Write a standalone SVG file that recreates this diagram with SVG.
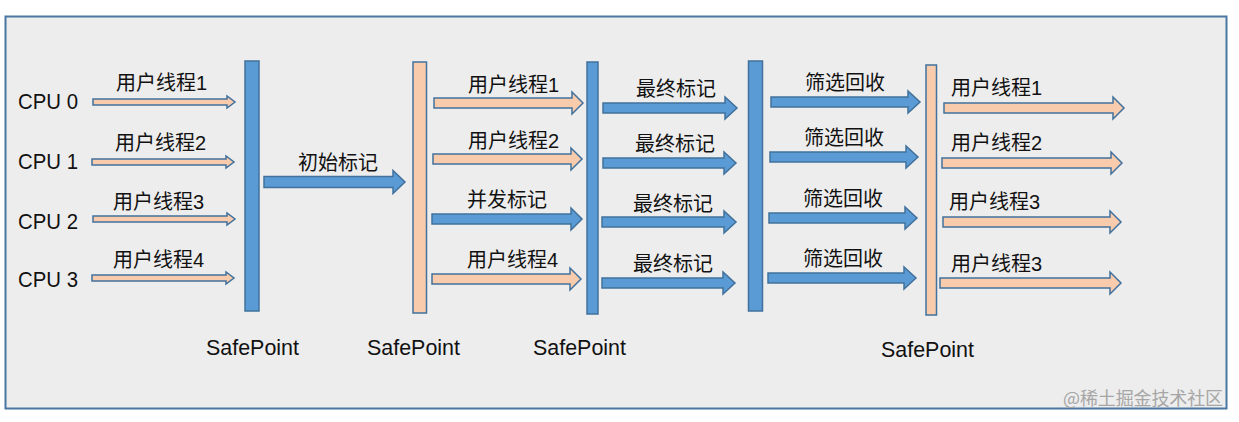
<svg xmlns="http://www.w3.org/2000/svg" width="1239" height="422" viewBox="0 0 1239 422">
<style>
.t{font-family:"Liberation Sans","Noto Sans CJK SC",sans-serif;font-size:20px;fill:#111}
.cpu{font-size:22px}
.sp{font-size:22.5px}
.blue{fill:#5B9BD5;stroke:#41719C;stroke-width:1.5}
.org{fill:#F8CBAD;stroke:#41719C;stroke-width:1.5}
.wm{font-family:"Noto Sans CJK SC",sans-serif;font-size:18px;fill:#A6A6A6}
</style>
<rect x="0" y="0" width="1239" height="422" fill="#FFFFFF"/>
<rect id="frame" x="5.5" y="16.5" width="1221" height="392" fill="#EDEDED" stroke="#4A76A0" stroke-width="2"/>

<g id="cpu-labels">
<text class="t cpu" x="18" y="109" textLength="60" lengthAdjust="spacingAndGlyphs">CPU 0</text>
<text class="t cpu" x="18" y="169" textLength="60" lengthAdjust="spacingAndGlyphs">CPU 1</text>
<text class="t cpu" x="18" y="229" textLength="60" lengthAdjust="spacingAndGlyphs">CPU 2</text>
<text class="t cpu" x="18" y="287" textLength="60" lengthAdjust="spacingAndGlyphs">CPU 3</text>
</g>

<g id="safepoint1"><rect class="blue" x="245" y="61" width="14" height="250"/><text class="t sp" x="206" y="355" textLength="93" lengthAdjust="spacingAndGlyphs">SafePoint</text></g>
<g id="safepoint2"><rect class="org" x="413" y="62" width="13.5" height="251"/><text class="t sp" x="367" y="355" textLength="93" lengthAdjust="spacingAndGlyphs">SafePoint</text></g>
<g id="safepoint3"><rect class="blue" x="587" y="62" width="11" height="252"/><text class="t sp" x="533" y="355" textLength="93" lengthAdjust="spacingAndGlyphs">SafePoint</text></g>
<g id="barrier4"><rect class="blue" x="748.5" y="61" width="14" height="250"/></g>
<g id="safepoint4"><rect class="org" x="926" y="65" width="10.5" height="250"/><text class="t sp" x="881" y="357" textLength="93" lengthAdjust="spacingAndGlyphs">SafePoint</text></g>

<g id="connectors">
<path class="org" d="M93,99 H227 V96 L235,102 L227,108 V105 H93 Z"/>
<path class="org" d="M92,159 H226 V156 L234,162 L226,168 V165 H92 Z"/>
<path class="org" d="M93,216 H227 V213 L235,219 L227,225 V222 H93 Z"/>
<path class="org" d="M92,275 H226 V272 L234,278 L226,284 V281 H92 Z"/>
<text class="t" x="116" y="89.5">用户线程1</text>
<text class="t" x="115" y="149.5">用户线程2</text>
<text class="t" x="113" y="208.5">用户线程3</text>
<text class="t" x="113" y="267">用户线程4</text>

<path class="blue" d="M264,176.5 H393 V170.5 L405,182 L393,193.5 V187.5 H264 Z"/>
<text class="t" x="298" y="170">初始标记</text>

<path class="org" d="M434,98 H572 V92 L583,103 L572,114 V108 H434 Z"/>
<path class="org" d="M433,154 H571 V148 L582,159 L571,170 V164 H433 Z"/>
<path class="blue" d="M432,214 H571 V208 L582,219 L571,230 V224 H432 Z"/>
<path class="org" d="M432,274 H570 V268 L581,279 L570,290 V284 H432 Z"/>
<text class="t" x="468" y="92">用户线程1</text>
<text class="t" x="468" y="148">用户线程2</text>
<text class="t" x="467" y="207">并发标记</text>
<text class="t" x="467" y="267">用户线程4</text>

<path class="blue" d="M603,103 H725 V97 L737,108 L725,119 V113 H603 Z"/>
<path class="blue" d="M603,158 H724 V152 L736,163 L724,174 V168 H603 Z"/>
<path class="blue" d="M602,217 H724 V211 L736,222 L724,233 V227 H602 Z"/>
<path class="blue" d="M602,278 H723 V272 L735,283 L723,294 V288 H602 Z"/>
<text class="t" x="636" y="95.5">最终标记</text>
<text class="t" x="635" y="150.5">最终标记</text>
<text class="t" x="633" y="210.5">最终标记</text>
<text class="t" x="633" y="270.5">最终标记</text>

<path class="blue" d="M771,97 H908 V91 L920,102 L908,113 V107 H771 Z"/>
<path class="blue" d="M770,152 H906 V146 L918,157 L906,168 V162 H770 Z"/>
<path class="blue" d="M769,213 H905 V207 L917,218 L905,229 V223 H769 Z"/>
<path class="blue" d="M768,273 H904 V267 L916,278 L904,289 V283 H768 Z"/>
<text class="t" x="805" y="90">筛选回收</text>
<text class="t" x="804" y="145">筛选回收</text>
<text class="t" x="803" y="206">筛选回收</text>
<text class="t" x="803" y="266">筛选回收</text>

<path class="org" d="M944,103 H1113 V97 L1124,108 L1113,119 V113 H944 Z"/>
<path class="org" d="M942,158 H1111 V152 L1122,163 L1111,174 V168 H942 Z"/>
<path class="org" d="M943,217 H1110 V211 L1121,222 L1110,233 V227 H943 Z"/>
<path class="org" d="M940,278 H1110 V272 L1121,283 L1110,294 V288 H940 Z"/>
<text class="t" x="951" y="95">用户线程1</text>
<text class="t" x="951" y="150">用户线程2</text>
<text class="t" x="949" y="208.5">用户线程3</text>
<text class="t" x="951" y="270.5">用户线程3</text>
</g>

<text class="wm" x="1063" y="405" textLength="160">@稀土掘金技术社区</text>
</svg>
